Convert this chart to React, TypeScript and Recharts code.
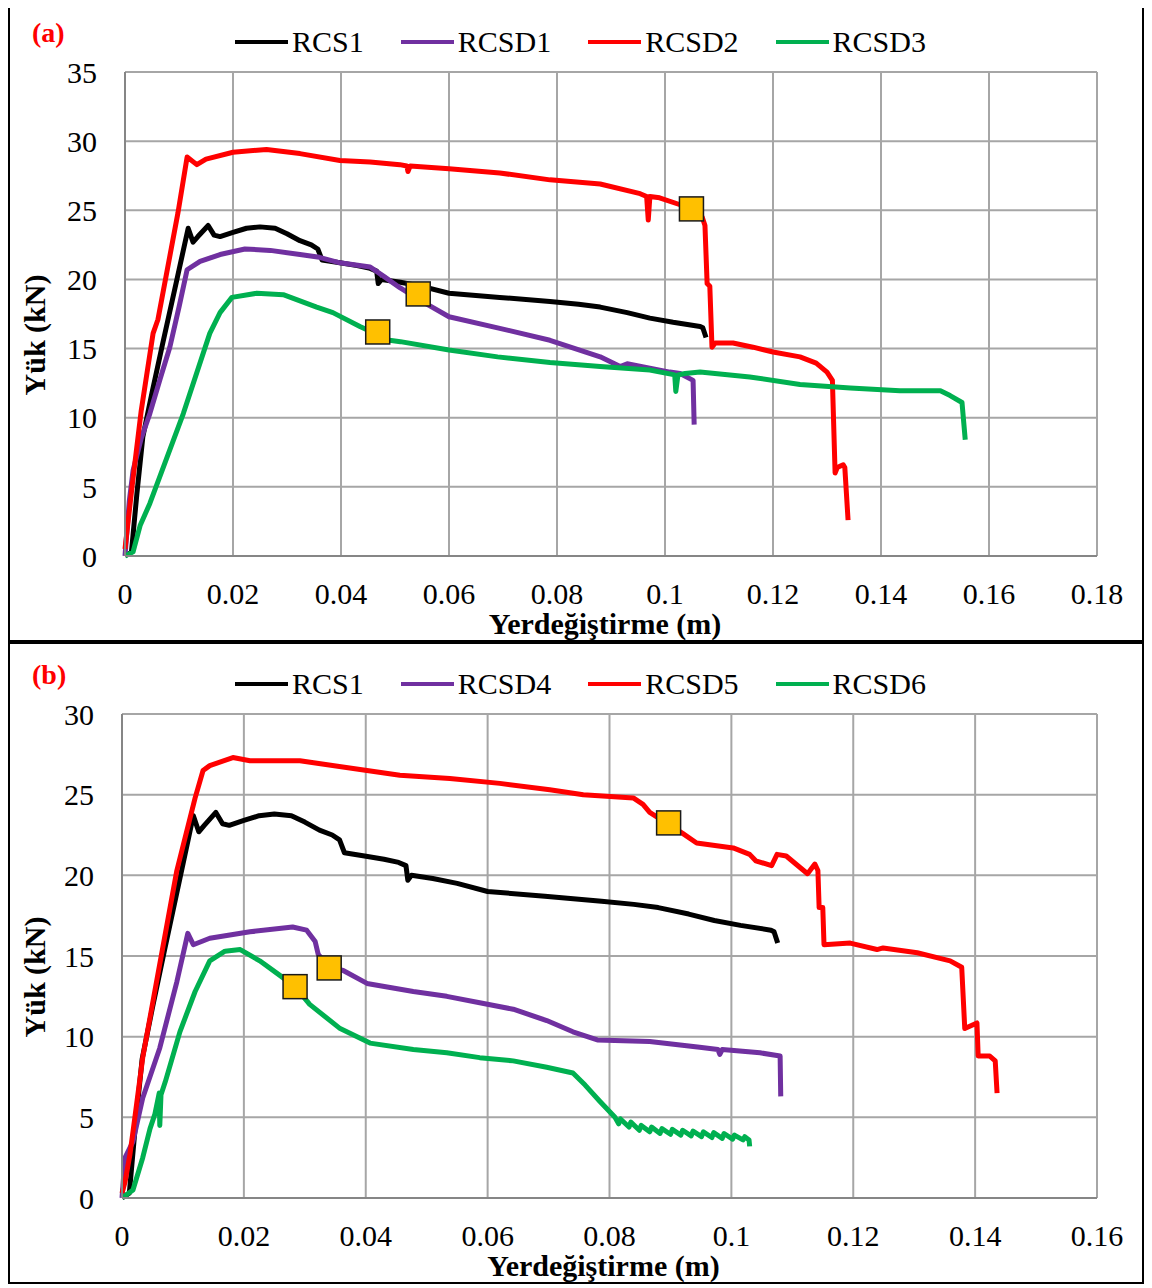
import { ComposedChart, Line, Scatter, XAxis, YAxis, CartesianGrid, Legend } from 'recharts';

type Pt = { x: number; y: number };

const FONT = 'Liberation Serif';

// axis ticks
const xTicksA = [0, 0.02, 0.04, 0.06, 0.08, 0.1, 0.12, 0.14, 0.16, 0.18];
const yTicksA = [0, 5, 10, 15, 20, 25, 30, 35];
const xTicksB = [0, 0.02, 0.04, 0.06, 0.08, 0.1, 0.12, 0.14, 0.16];
const yTicksB = [0, 5, 10, 15, 20, 25, 30];

// displacement (m) vs load (kN)
const rcs1: Pt[] = [
  { x: 0, y: 0 }, { x: 0.0012, y: 0.3 }, { x: 0.0022, y: 4.5 }, { x: 0.0033, y: 8.6 },
  { x: 0.005, y: 11.8 }, { x: 0.007, y: 15.4 }, { x: 0.0095, y: 19.8 }, { x: 0.0117, y: 23.7 },
  { x: 0.0126, y: 22.7 }, { x: 0.0135, y: 23.1 }, { x: 0.0154, y: 23.9 }, { x: 0.0165, y: 23.2 },
  { x: 0.0176, y: 23.1 }, { x: 0.02, y: 23.4 }, { x: 0.0225, y: 23.7 }, { x: 0.025, y: 23.8 },
  { x: 0.0278, y: 23.7 }, { x: 0.03, y: 23.3 }, { x: 0.0324, y: 22.8 }, { x: 0.0345, y: 22.5 },
  { x: 0.0357, y: 22.2 }, { x: 0.0365, y: 21.4 }, { x: 0.0398, y: 21.2 }, { x: 0.043, y: 21.0 },
  { x: 0.0454, y: 20.8 }, { x: 0.0466, y: 20.6 }, { x: 0.0469, y: 19.7 }, { x: 0.0475, y: 20.0 },
  { x: 0.051, y: 19.8 }, { x: 0.055, y: 19.5 }, { x: 0.06, y: 19.0 }, { x: 0.0694, y: 18.7 },
  { x: 0.0787, y: 18.4 }, { x: 0.084, y: 18.2 }, { x: 0.088, y: 18.0 }, { x: 0.093, y: 17.6 },
  { x: 0.0972, y: 17.2 }, { x: 0.1015, y: 16.9 }, { x: 0.1065, y: 16.6 }, { x: 0.107, y: 16.5 },
  { x: 0.1076, y: 15.8 },
];

const rcsd1: Pt[] = [
  { x: 0, y: 0 }, { x: 0.0008, y: 4.0 }, { x: 0.0015, y: 6.2 }, { x: 0.003, y: 8.5 },
  { x: 0.0046, y: 10.3 }, { x: 0.0065, y: 12.8 }, { x: 0.0083, y: 15.1 }, { x: 0.01, y: 18.0 },
  { x: 0.0115, y: 20.7 }, { x: 0.0139, y: 21.3 }, { x: 0.0176, y: 21.8 }, { x: 0.0222, y: 22.2 },
  { x: 0.0269, y: 22.1 }, { x: 0.0324, y: 21.8 }, { x: 0.036, y: 21.6 }, { x: 0.0398, y: 21.2 },
  { x: 0.0454, y: 20.9 }, { x: 0.048, y: 20.2 }, { x: 0.0509, y: 19.4 }, { x: 0.0546, y: 18.5 },
  { x: 0.06, y: 17.3 }, { x: 0.069, y: 16.5 }, { x: 0.0787, y: 15.6 }, { x: 0.088, y: 14.4 },
  { x: 0.0917, y: 13.7 }, { x: 0.093, y: 13.9 }, { x: 0.1009, y: 13.3 }, { x: 0.1028, y: 13.2 },
  { x: 0.1052, y: 12.7 }, { x: 0.1054, y: 9.5 },
];

const rcsd2: Pt[] = [
  { x: 0, y: 0.5 }, { x: 0.0013, y: 5.0 }, { x: 0.003, y: 10.5 }, { x: 0.0052, y: 16.1 },
  { x: 0.0061, y: 17.1 }, { x: 0.0098, y: 24.8 }, { x: 0.0115, y: 28.85 }, { x: 0.0133, y: 28.3 },
  { x: 0.015, y: 28.7 }, { x: 0.02, y: 29.2 }, { x: 0.0262, y: 29.4 }, { x: 0.0324, y: 29.1 },
  { x: 0.0398, y: 28.6 }, { x: 0.0454, y: 28.5 }, { x: 0.0509, y: 28.3 }, { x: 0.0522, y: 28.2 },
  { x: 0.0524, y: 27.8 }, { x: 0.0528, y: 28.2 }, { x: 0.06, y: 28.0 }, { x: 0.0694, y: 27.7 },
  { x: 0.0787, y: 27.2 }, { x: 0.088, y: 26.9 }, { x: 0.0954, y: 26.2 }, { x: 0.0966, y: 26.0 },
  { x: 0.0969, y: 24.3 }, { x: 0.0972, y: 26.0 }, { x: 0.099, y: 25.9 }, { x: 0.1028, y: 25.4 },
  { x: 0.1046, y: 25.2 }, { x: 0.1069, y: 24.5 }, { x: 0.1074, y: 23.9 }, { x: 0.1078, y: 19.7 },
  { x: 0.1083, y: 19.5 }, { x: 0.1087, y: 15.1 }, { x: 0.1093, y: 15.4 }, { x: 0.1126, y: 15.4 },
  { x: 0.1163, y: 15.1 }, { x: 0.12, y: 14.75 }, { x: 0.125, y: 14.4 }, { x: 0.128, y: 13.95 },
  { x: 0.13, y: 13.3 }, { x: 0.131, y: 12.7 }, { x: 0.1315, y: 6.0 }, { x: 0.1319, y: 6.4 },
  { x: 0.133, y: 6.6 }, { x: 0.1333, y: 6.4 }, { x: 0.1339, y: 2.6 },
];

const rcsd3: Pt[] = [
  { x: 0, y: 0 }, { x: 0.0015, y: 0.3 }, { x: 0.0028, y: 2.2 }, { x: 0.0046, y: 3.8 },
  { x: 0.0108, y: 10.3 }, { x: 0.0157, y: 16.1 }, { x: 0.0176, y: 17.6 }, { x: 0.0198, y: 18.7 },
  { x: 0.0244, y: 19.0 }, { x: 0.0293, y: 18.9 }, { x: 0.0355, y: 18.0 }, { x: 0.0385, y: 17.6 },
  { x: 0.0435, y: 16.6 }, { x: 0.0463, y: 16.1 }, { x: 0.049, y: 15.6 }, { x: 0.051, y: 15.5 },
  { x: 0.06, y: 14.9 }, { x: 0.069, y: 14.4 }, { x: 0.0787, y: 14.0 }, { x: 0.088, y: 13.7 },
  { x: 0.0972, y: 13.45 }, { x: 0.1018, y: 13.1 }, { x: 0.102, y: 11.9 }, { x: 0.1024, y: 13.1 },
  { x: 0.1037, y: 13.2 }, { x: 0.1065, y: 13.3 }, { x: 0.1157, y: 12.95 }, { x: 0.125, y: 12.4 },
  { x: 0.1343, y: 12.15 }, { x: 0.1435, y: 11.95 }, { x: 0.151, y: 11.95 }, { x: 0.1528, y: 11.6 },
  { x: 0.155, y: 11.1 }, { x: 0.1556, y: 8.4 },
];

const rcsd4: Pt[] = [
  { x: 0, y: 0 }, { x: 0.0005, y: 2.5 }, { x: 0.0018, y: 3.5 }, { x: 0.0034, y: 6.2 },
  { x: 0.0062, y: 9.3 }, { x: 0.009, y: 13.4 }, { x: 0.0108, y: 16.4 }, { x: 0.0117, y: 15.7 },
  { x: 0.0144, y: 16.1 }, { x: 0.021, y: 16.5 }, { x: 0.028, y: 16.8 }, { x: 0.0303, y: 16.6 },
  { x: 0.0317, y: 15.9 }, { x: 0.0322, y: 15.1 }, { x: 0.034, y: 14.3 }, { x: 0.0363, y: 14.1 },
  { x: 0.0402, y: 13.3 }, { x: 0.0478, y: 12.8 }, { x: 0.0533, y: 12.5 }, { x: 0.0587, y: 12.1 },
  { x: 0.0642, y: 11.7 }, { x: 0.0697, y: 11.0 }, { x: 0.074, y: 10.3 }, { x: 0.078, y: 9.8 },
  { x: 0.0866, y: 9.7 }, { x: 0.0948, y: 9.35 }, { x: 0.0978, y: 9.2 }, { x: 0.0981, y: 8.9 },
  { x: 0.0985, y: 9.2 }, { x: 0.1047, y: 9.0 }, { x: 0.108, y: 8.8 }, { x: 0.1081, y: 6.3 },
];

const rcsd5: Pt[] = [
  { x: 0, y: 0.3 }, { x: 0.0005, y: 1.0 }, { x: 0.0013, y: 2.7 }, { x: 0.0018, y: 4.1 },
  { x: 0.0034, y: 8.7 }, { x: 0.0062, y: 14.5 }, { x: 0.009, y: 20.3 }, { x: 0.012, y: 24.8 },
  { x: 0.0133, y: 26.5 }, { x: 0.0144, y: 26.8 }, { x: 0.0182, y: 27.3 }, { x: 0.021, y: 27.1 },
  { x: 0.0292, y: 27.1 }, { x: 0.0402, y: 26.5 }, { x: 0.0456, y: 26.2 }, { x: 0.0538, y: 26.0 },
  { x: 0.062, y: 25.7 }, { x: 0.0702, y: 25.3 }, { x: 0.0757, y: 25.0 }, { x: 0.0839, y: 24.8 },
  { x: 0.0855, y: 24.4 }, { x: 0.0866, y: 23.9 }, { x: 0.092, y: 22.6 }, { x: 0.0943, y: 22.0 },
  { x: 0.1003, y: 21.7 }, { x: 0.103, y: 21.3 }, { x: 0.104, y: 20.9 }, { x: 0.1066, y: 20.6 },
  { x: 0.1075, y: 21.3 }, { x: 0.109, y: 21.2 }, { x: 0.1125, y: 20.1 }, { x: 0.1137, y: 20.7 },
  { x: 0.1142, y: 20.3 }, { x: 0.1144, y: 18.0 }, { x: 0.115, y: 18.0 }, { x: 0.1152, y: 15.7 },
  { x: 0.1195, y: 15.8 }, { x: 0.1239, y: 15.4 }, { x: 0.1249, y: 15.5 }, { x: 0.1305, y: 15.2 },
  { x: 0.1359, y: 14.7 }, { x: 0.1378, y: 14.3 }, { x: 0.1383, y: 10.5 }, { x: 0.1403, y: 10.85 },
  { x: 0.1405, y: 8.8 }, { x: 0.1424, y: 8.8 }, { x: 0.1433, y: 8.5 }, { x: 0.1436, y: 6.5 },
];

const rcsd6: Pt[] = [
  { x: 0, y: 0 }, { x: 0.0018, y: 0.5 }, { x: 0.0034, y: 2.5 }, { x: 0.0046, y: 4.3 },
  { x: 0.0054, y: 5.2 }, { x: 0.006, y: 6.3 }, { x: 0.0061, y: 6.5 }, { x: 0.0062, y: 4.5 },
  { x: 0.0064, y: 6.4 }, { x: 0.0071, y: 7.2 }, { x: 0.0095, y: 10.3 }, { x: 0.012, y: 12.8 },
  { x: 0.0144, y: 14.7 }, { x: 0.0169, y: 15.3 }, { x: 0.0194, y: 15.4 }, { x: 0.0226, y: 14.7 },
  { x: 0.0259, y: 13.8 }, { x: 0.0284, y: 13.1 }, { x: 0.0308, y: 12.0 }, { x: 0.0358, y: 10.5 },
  { x: 0.0407, y: 9.6 }, { x: 0.0478, y: 9.2 }, { x: 0.0533, y: 9.0 }, { x: 0.0587, y: 8.7 },
  { x: 0.0642, y: 8.5 }, { x: 0.0697, y: 8.1 }, { x: 0.074, y: 7.75 }, { x: 0.076, y: 7.0 },
  { x: 0.0784, y: 6.0 }, { x: 0.0809, y: 5.0 }, { x: 0.0815, y: 4.6 }, { x: 0.0818, y: 4.9 },
  { x: 0.0832, y: 4.4 }, { x: 0.0835, y: 4.7 }, { x: 0.0849, y: 4.2 }, { x: 0.0852, y: 4.5 },
  { x: 0.0866, y: 4.1 }, { x: 0.0869, y: 4.4 }, { x: 0.0883, y: 4.0 }, { x: 0.0886, y: 4.3 },
  { x: 0.09, y: 3.95 }, { x: 0.0903, y: 4.25 }, { x: 0.0917, y: 3.9 }, { x: 0.092, y: 4.2 },
  { x: 0.0934, y: 3.85 }, { x: 0.0937, y: 4.15 }, { x: 0.0951, y: 3.8 }, { x: 0.0954, y: 4.1 },
  { x: 0.0968, y: 3.75 }, { x: 0.0971, y: 4.05 }, { x: 0.0985, y: 3.7 }, { x: 0.0988, y: 4.0 },
  { x: 0.1002, y: 3.65 }, { x: 0.1005, y: 3.9 }, { x: 0.1019, y: 3.6 }, { x: 0.1022, y: 3.8 },
  { x: 0.1029, y: 3.6 }, { x: 0.103, y: 3.2 },
];

// yellow square markers
const markersA: Pt[] = [
  { x: 0.1049, y: 25.1 }, { x: 0.0543, y: 18.95 }, { x: 0.0468, y: 16.2 },
];
const markersB: Pt[] = [
  { x: 0.0897, y: 23.25 }, { x: 0.034, y: 14.26 }, { x: 0.0284, y: 13.1 },
];

const seriesA = [
  { name: 'RCS1', color: '#000000', data: rcs1 },
  { name: 'RCSD1', color: '#7030A0', data: rcsd1 },
  { name: 'RCSD2', color: '#FF0000', data: rcsd2 },
  { name: 'RCSD3', color: '#00B050', data: rcsd3 },
];
const seriesB = [
  { name: 'RCS1', color: '#000000', data: rcs1 },
  { name: 'RCSD4', color: '#7030A0', data: rcsd4 },
  { name: 'RCSD5', color: '#FF0000', data: rcsd5 },
  { name: 'RCSD6', color: '#00B050', data: rcsd6 },
];

const W = 1132;
const H = 638;

const renderLegend = (props: any) => {
  const items = (props.payload || []).filter((p: any) => p.type !== 'none');
  return (
    <div style={{ height: 60, display: 'flex', justifyContent: 'center', alignItems: 'center', paddingLeft: 9, fontFamily: FONT }}>
      {items.map((p: any, i: number) => (
        <div key={p.value} style={{ display: 'flex', alignItems: 'center', marginRight: i < items.length - 1 ? 37 : 0 }}>
          <span style={{ display: 'inline-block', width: 53, height: 4, background: p.color, marginRight: 4 }} />
          <span style={{ fontFamily: FONT, fontSize: 30, lineHeight: '30px', color: '#000' }}>{p.value}</span>
        </div>
      ))}
    </div>
  );
};

const square = (props: any) => (
  <rect x={props.cx - 12} y={props.cy - 12} width={24} height={24} fill="#FFC000" stroke="#1a1a1a" strokeWidth={1.5} />
);

interface PanelProps {
  tag: string;
  series: { name: string; color: string; data: Pt[] }[];
  markers: Pt[];
  xMax: number;
  xTicks: number[];
  yMax: number;
  yTicks: number[];
  yAxisWidth: number;
}

function Panel({ tag, series, markers, xMax, xTicks, yMax, yTicks, yAxisWidth }: PanelProps) {
  const xTitle = (p: any) => {
    const vb = p.viewBox;
    return (
      <text x={vb.x + vb.width / 2 - 6} y={vb.y + 78} textAnchor="middle" fontSize={30} fontWeight="bold" fill="#000" fontFamily={FONT}>
        Yerdeğiştirme (m)
      </text>
    );
  };
  const yTitle = (p: any) => {
    const vb = p.viewBox;
    const cy = vb.y + vb.height / 2 + 21;
    return (
      <text x={35} y={cy} transform={`rotate(-90, 35, ${cy})`} textAnchor="middle" fontSize={30} fontWeight="bold" fill="#000" fontFamily={FONT}>
        Yük (kN)
      </text>
    );
  };
  const tickStyle = { fill: '#000', fontSize: 30, fontFamily: FONT };

  return (
    <div style={{ position: 'relative', width: W, height: H, border: '2px solid #000', background: '#fff', fontFamily: FONT }}>
      <ComposedChart width={W} height={H} margin={{ top: 10, right: 45, bottom: 0, left: 0 }} style={{ fontFamily: FONT }}>
        <CartesianGrid stroke="#A6A6A6" strokeWidth={2} />
        <XAxis
          type="number"
          dataKey="x"
          domain={[0, xMax]}
          ticks={xTicks}
          interval={0}
          height={84}
          tickLine={false}
          tickMargin={21}
          axisLine={{ stroke: '#868686', strokeWidth: 2 }}
          tick={tickStyle}
          label={xTitle}
        />
        <YAxis
          type="number"
          dataKey="y"
          domain={[0, yMax]}
          ticks={yTicks}
          interval={0}
          width={yAxisWidth}
          tickLine={false}
          tickMargin={22}
          axisLine={{ stroke: '#868686', strokeWidth: 2 }}
          tick={tickStyle}
          label={yTitle}
        />
        <Legend verticalAlign="top" align="center" content={renderLegend} wrapperStyle={{ left: 0, width: W }} />
        {series.map((s) => (
          <Line
            key={s.name}
            name={s.name}
            data={s.data}
            dataKey="y"
            type="linear"
            stroke={s.color}
            strokeWidth={5}
            strokeLinejoin="round"
            dot={false}
            activeDot={false}
            isAnimationActive={false}
          />
        ))}
        <Scatter data={markers} dataKey="y" shape={square} legendType="none" isAnimationActive={false} />
      </ComposedChart>
      <div
        style={{
          position: 'absolute', left: 22, top: 17, fontFamily: FONT, fontSize: 28, lineHeight: '28px',
          fontWeight: 'bold', color: '#FF0000',
        }}
      >
        {tag}
      </div>
    </div>
  );
}

export default function App() {
  return (
    <div style={{ marginTop: -8, fontFamily: FONT, width: W + 4 }}>
      <Panel tag="(a)" series={seriesA} markers={markersA} xMax={0.18} xTicks={xTicksA} yMax={35} yTicks={yTicksA} yAxisWidth={115} />
      <Panel tag="(b)" series={seriesB} markers={markersB} xMax={0.16} xTicks={xTicksB} yMax={30} yTicks={yTicksB} yAxisWidth={112} />
    </div>
  );
}
